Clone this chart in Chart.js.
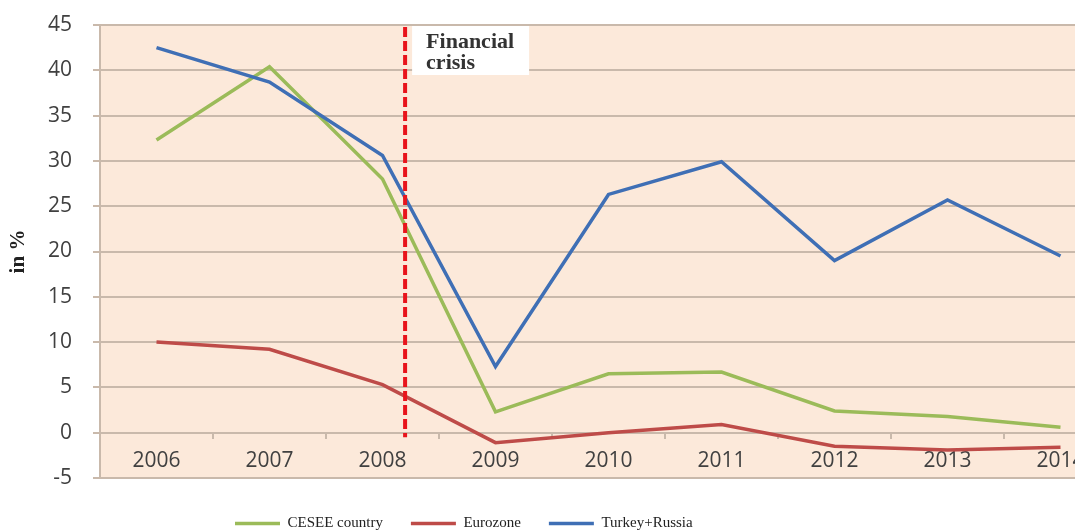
<!DOCTYPE html>
<html>
<head>
<meta charset="utf-8">
<title>Credit growth</title>
<script src="https://cdn.jsdelivr.net/npm/chart.js@4/dist/chart.umd.min.js"></script>
<style>
  html, body { margin: 0; padding: 0; background: #fff; overflow: hidden; }
</style>
</head>
<body>
<canvas id="growth" width="1120" height="531"></canvas>
<script>
// series data, in %
const years        = ['2006', '2007', '2008', '2009', '2010', '2011', '2012', '2013', '2014'];
const cesee        = [32.3, 40.4, 28.0, 2.3, 6.5, 6.7, 2.4, 1.8, 0.6];
const eurozone     = [10.0, 9.2, 5.3, -1.1, 0.0, 0.9, -1.5, -1.9, -1.6];
const turkeyRussia = [42.5, 38.7, 30.6, 7.3, 26.3, 29.9, 19.0, 25.7, 19.5];

const yMin = -5, yMax = 45, yStep = 5;

// crisis marker sits a little after 2008 (category index)
const crisisAt    = 2.2;
const crisisText  = ['Financial', 'crisis'];

const GRID  = '#c9b9ab';
const PEACH = '#fce9da';
const INK   = '#404040';

// peach fill behind the plot
const plotBackground = {
  id: 'plotBackground',
  beforeDraw(chart) {
    const { ctx, chartArea: a } = chart;
    ctx.save();
    ctx.fillStyle = PEACH;
    ctx.fillRect(a.left, a.top, a.right - a.left, a.bottom - a.top);
    ctx.restore();
  }
};

// red dashed line + white label box
const crisisMarker = {
  id: 'crisisMarker',
  afterDatasetsDraw(chart) {
    const { ctx, scales: { x, y } } = chart;
    const px = x.getPixelForValue(crisisAt);
    ctx.save();
    ctx.strokeStyle = '#e8141c';
    ctx.lineWidth = 4;
    ctx.setLineDash([10, 4]);
    ctx.beginPath();
    ctx.moveTo(px, y.getPixelForValue(yMax) + 2);
    ctx.lineTo(px, y.getPixelForValue(-0.5));
    ctx.stroke();
    ctx.setLineDash([]);

    const top = y.getPixelForValue(yMax) + 1;
    ctx.fillStyle = '#fff';
    ctx.fillRect(px + 7, top, 117, 49);
    ctx.fillStyle = '#333';
    ctx.font = 'bold 22px "Liberation Serif", serif';
    ctx.textBaseline = 'alphabetic';
    ctx.fillText(crisisText[0], px + 21, top + 22);
    ctx.fillText(crisisText[1], px + 21, top + 43);
    ctx.restore();
  }
};

// push the legend row to start under 2006/2007 and a bit lower
const legendNudge = {
  id: 'legendNudge',
  afterLayout(chart) {
    const lg = chart.legend;
    const w = lg.right - lg.left;
    lg.left = 235 - lg.options.labels.padding;
    lg.right = lg.left + w;
    lg.top += 10;
    lg.bottom += 10;
  }
};

function line(label, data, color, order) {
  return {
    label, data, order,
    borderColor: color,
    backgroundColor: color,
    borderWidth: 3.5,
    pointRadius: 0,
    tension: 0,
    fill: false
  };
}

new Chart(document.getElementById('growth'), {
  type: 'line',
  data: {
    labels: years,
    datasets: [
      line('CESEE country', cesee, '#9bbb59', 1),
      line('Eurozone', eurozone, '#be4b48', 2),
      line('Turkey+Russia', turkeyRussia, '#3f6fb5', 0)
    ]
  },
  options: {
    responsive: false,
    animation: false,
    layout: { padding: { top: 25, right: 3, left: 0, bottom: 0 } },
    plugins: {
      tooltip: { enabled: false },
      legend: {
        position: 'bottom',
        align: 'start',
        labels: {
          usePointStyle: true,
          pointStyle: 'line',
          pointStyleWidth: 45,
          padding: 28,
          color: '#222',
          font: { family: '"Liberation Serif", serif', size: 15 },
          sort: (a, b) => a.datasetIndex - b.datasetIndex
        }
      }
    },
    scales: {
      x: {
        type: 'category',
        position: { y: 0 },
        offset: true,
        grid: { offset: true, drawOnChartArea: false, drawTicks: true, tickLength: 6, color: GRID, lineWidth: 2 },
        border: { display: false },
        ticks: { color: INK, padding: 10, font: { family: '"Open Sans", sans-serif', size: 21 } }
      },
      y: {
        min: yMin,
        max: yMax,
        // fixed axis width; tick padding should not push the plot top down
        afterFit: s => { s.width = 100; s.paddingTop = 0; },
        ticks: { stepSize: yStep, color: INK, padding: 21, font: { family: '"Open Sans", sans-serif', size: 21 } },
        grid: { color: GRID, lineWidth: 2, tickLength: 7 },
        border: { color: GRID, width: 2 },
        title: {
          display: true,
          text: 'in %',
          color: '#222',
          padding: { top: 6 },
          font: { family: '"Liberation Serif", serif', size: 21, weight: 'bold' }
        }
      }
    }
  },
  plugins: [plotBackground, crisisMarker, legendNudge]
});
</script>
</body>
</html>
